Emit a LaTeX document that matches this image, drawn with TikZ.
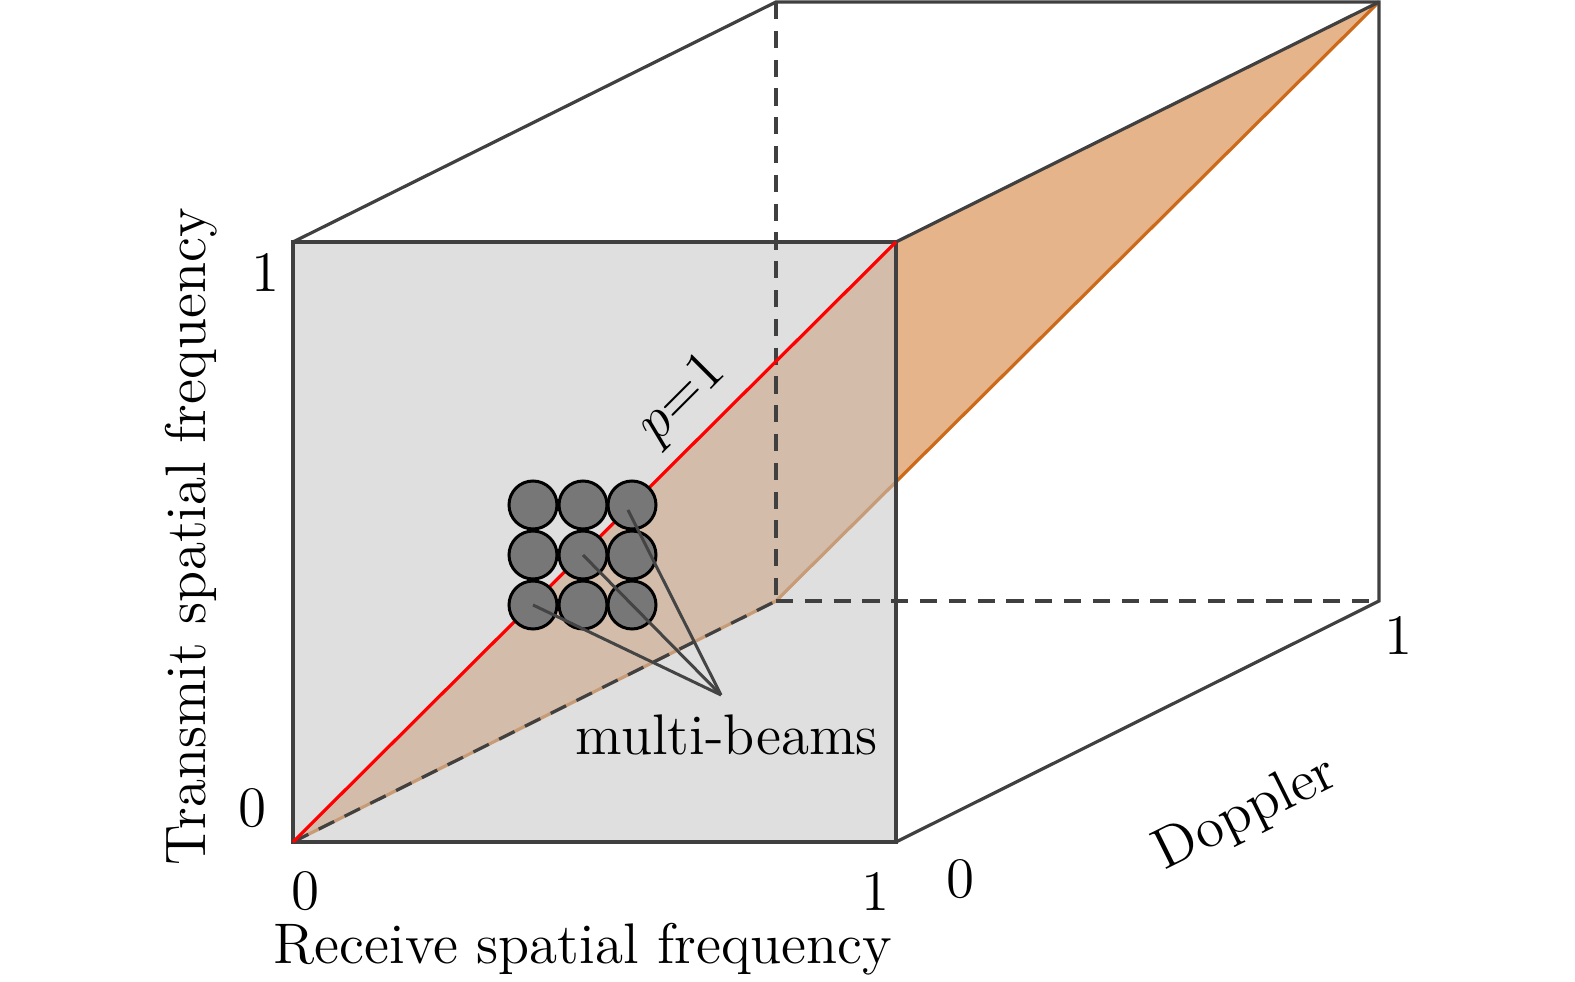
\documentclass[tikz,border=0pt]{standalone}
\definecolor{edgec}{HTML}{404040}
\definecolor{planefill}{HTML}{E5B48A}
\definecolor{planeedge}{HTML}{CD6A1A}
\definecolor{facegray}{HTML}{C5C5C5}
\definecolor{beamfill}{HTML}{777777}
\definecolor{pointerc}{HTML}{444444}
\begin{document}
\begin{tikzpicture}[x=0.25pt,y=-0.25pt,
  cubeedge/.style={draw=edgec,line width=0.8pt},
  hidden/.style={draw=edgec,line width=0.8pt,dash pattern=on 4.3pt off 2.9pt},
  beamc/.style={circle,draw=black,line width=0.75pt,fill=beamfill,minimum size=12pt,inner sep=0pt},
  pointer/.style={draw=pointerc,line width=0.75pt},
  lab/.style={font=\fontsize{14.3}{17}\selectfont,inner sep=0pt}]
\useasboundingbox (0,0) rectangle (1575,982);
% cube corners
\coordinate (A) at (293,842);
\coordinate (B) at (896,842);
\coordinate (C) at (896,242);
\coordinate (D) at (293,242);
\coordinate (E) at (776,601);
\coordinate (F) at (1379,601);
\coordinate (G) at (1379,2);
\coordinate (H) at (776,2);
% plane
\fill[planefill] (A) -- (C) -- (G) -- (E) -- cycle;
\draw[planeedge,line width=0.8pt] (G) -- (E);
\draw[planeedge,line width=0.8pt] (A) -- (E);
% front face (semi-transparent)
\fill[facegray,fill opacity=0.55] (A) rectangle (C);
% hidden edges
\draw[hidden] (H) -- (E);
\draw[hidden] (E) -- (F);
\draw[hidden] (A) -- (E);
% visible edges
\draw[cubeedge] (A) -- (B) -- (C) -- (D) -- cycle;
\draw[cubeedge] (D) -- (H) -- (G) -- (F) -- (B);
\draw[cubeedge] (C) -- (G);
% p=1 line
\draw[red,line width=0.8pt] (A) -- (C);
% beams
\node[beamc] (b11) at (533,505) {};
\node[beamc] (b12) at (583,505) {};
\node[beamc] (b13) at (632,505) {};
\node[beamc] (b21) at (533,555) {};
\node[beamc] (b22) at (583,555) {};
\node[beamc] (b23) at (632,555) {};
\node[beamc] (b31) at (533,605) {};
\node[beamc] (b32) at (583,605) {};
\node[beamc] (b33) at (632,605) {};
\coordinate (mb) at (721,695);
\draw[pointer] (b31.center) -- (mb);
\draw[pointer] (b22.center) -- (mb);
\draw[pointer] ([shift={(-4,5)}]b13.center) -- (mb);
\node[lab] (mbl) at (727,735) {multi-beams};
% labels
\node[lab] (t1) at (266,272) {1};
\node[lab] (t0) at (253,808) {0};
\node[lab,rotate=90] (tl) at (191,537) {Transmit spatial frequency};
\node[lab] (r0) at (306,891) {0};
\node[lab] (r1) at (876,891) {1};
\node[lab] (rl) at (583,949) {Receive spatial frequency};
\node[lab] (d0) at (961,879) {0};
\node[lab] (d1) at (1399,635) {1};
\node[lab,rotate=26.4] (dl) at (1246,814) {Doppler};
\node[lab,rotate=45] (pl) at (683,400) {$p{=}1$};
\end{tikzpicture}
\end{document}
